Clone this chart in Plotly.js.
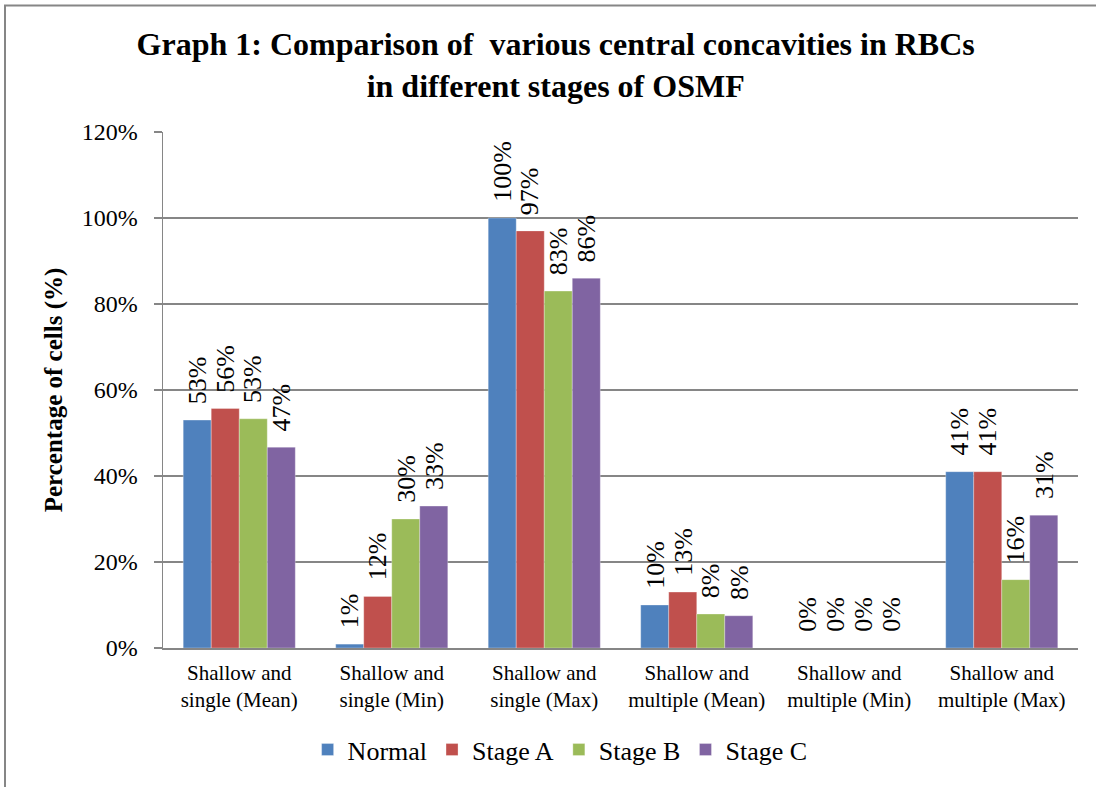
<!DOCTYPE html>
<html>
<head>
<meta charset="utf-8">
<script src="https://cdn.plot.ly/plotly-3.0.1.min.js"></script>
<style>html,body{margin:0;padding:0;background:#fff;}#chart{width:1096px;height:787px;}</style>
</head>
<body>
<div id="chart"></div>
<script>
const categories = [
  "Shallow and<br>single (Mean)",
  "Shallow and<br>single (Min)",
  "Shallow and<br>single (Max)",
  "Shallow and<br>multiple (Mean)",
  "Shallow and<br>multiple (Min)",
  "Shallow and<br>multiple (Max)"
];
const seriesNames = ["Normal", "Stage A", "Stage B", "Stage C"];
const normal = [0.53, 0.009, 1.00, 0.10, 0.0, 0.41];
const stageA = [0.557, 0.12, 0.97, 0.13, 0.0, 0.41];
const stageB = [0.533, 0.30, 0.83, 0.079, 0.0, 0.159];
const stageC = [0.467, 0.33, 0.86, 0.075, 0.0, 0.309];
const seriesValues = [normal, stageA, stageB, stageC];
const colors = ["#4F81BD", "#C0504D", "#9BBB59", "#8064A2"];

const SERIF = "Liberation Serif, Times New Roman, serif";
const margin = {l: 163, r: 18, t: 132, b: 139};
const plotW = 1096 - margin.l - margin.r;
const bargap = 0.265;
const barW = plotW / categories.length * (1 - bargap) / seriesNames.length;

const traces = seriesNames.map((name, i) => ({
  type: "bar",
  name: name,
  x: categories,
  y: seriesValues[i],
  marker: {color: colors[i], line: {color: "rgba(255,255,255,0.6)", width: 0.5}},
  hoverinfo: "skip"
}));

const annotations = [];
seriesValues.forEach((vals, i) => {
  vals.forEach((v, j) => {
    annotations.push({
      x: categories[j], y: v, xref: "x", yref: "y",
      text: Math.round(v * 100) + "%",
      showarrow: false, textangle: -90,
      xanchor: "center", yanchor: "bottom",
      xshift: (i - 1.5) * barW, yshift: 14,
      font: {family: SERIF, size: 26, color: "#000"}
    });
  });
});

const layout = {
  width: 1096, height: 787,
  margin: margin,
  paper_bgcolor: "#fff", plot_bgcolor: "#fff",
  barmode: "group", bargap: bargap, bargroupgap: 0,
  title: {
    text: "<b>Graph 1: Comparison of  various central concavities in RBCs<br>in different stages of OSMF</b>",
    font: {family: SERIF, size: 32, color: "#000"},
    x: 0.507, xref: "container", xanchor: "center",
    y: 0.93, yref: "container", yanchor: "top"
  },
  xaxis: {
    type: "category",
    showline: true, linecolor: "#868686", linewidth: 1.5,
    showgrid: false, ticks: "",
    tickfont: {family: SERIF, size: 21, color: "#000"},
    ticklabelstandoff: 5,
    automargin: false
  },
  yaxis: {
    range: [0, 1.2], dtick: 0.2, tick0: 0, tickformat: ".0%",
    showline: true, linecolor: "#868686", linewidth: 1.5,
    showgrid: true, gridcolor: "#868686", gridwidth: 1.5,
    ticks: "outside", ticklen: 8, tickcolor: "#868686", tickwidth: 1.5,
    tickfont: {family: SERIF, size: 24, color: "#000"},
    ticklabelstandoff: 11,
    zeroline: false,
    automargin: false,
    title: {text: "<b>Percentage of cells (%)</b>", font: {family: SERIF, size: 25, color: "#000"}, standoff: 12}
  },
  legend: {
    orientation: "h", x: 0.434, xanchor: "center", y: -0.197, yanchor: "middle",
    font: {family: SERIF, size: 26, color: "#000"},
    itemwidth: 30, traceorder: "normal", bgcolor: "rgba(0,0,0,0)"
  },
  annotations: annotations,
  shapes: [{
    type: "rect", xref: "paper", yref: "paper",
    x0: (5 - margin.l) / plotW, x1: 1.5,
    y0: -1, y1: 1 + (margin.t - 5.5) / (787 - margin.t - margin.b),
    line: {color: "#868686", width: 2}, fillcolor: "rgba(0,0,0,0)", layer: "below"
  }],
  showlegend: true
};

Plotly.newPlot("chart", traces, layout, {staticPlot: true, displayModeBar: false});
</script>
</body>
</html>
